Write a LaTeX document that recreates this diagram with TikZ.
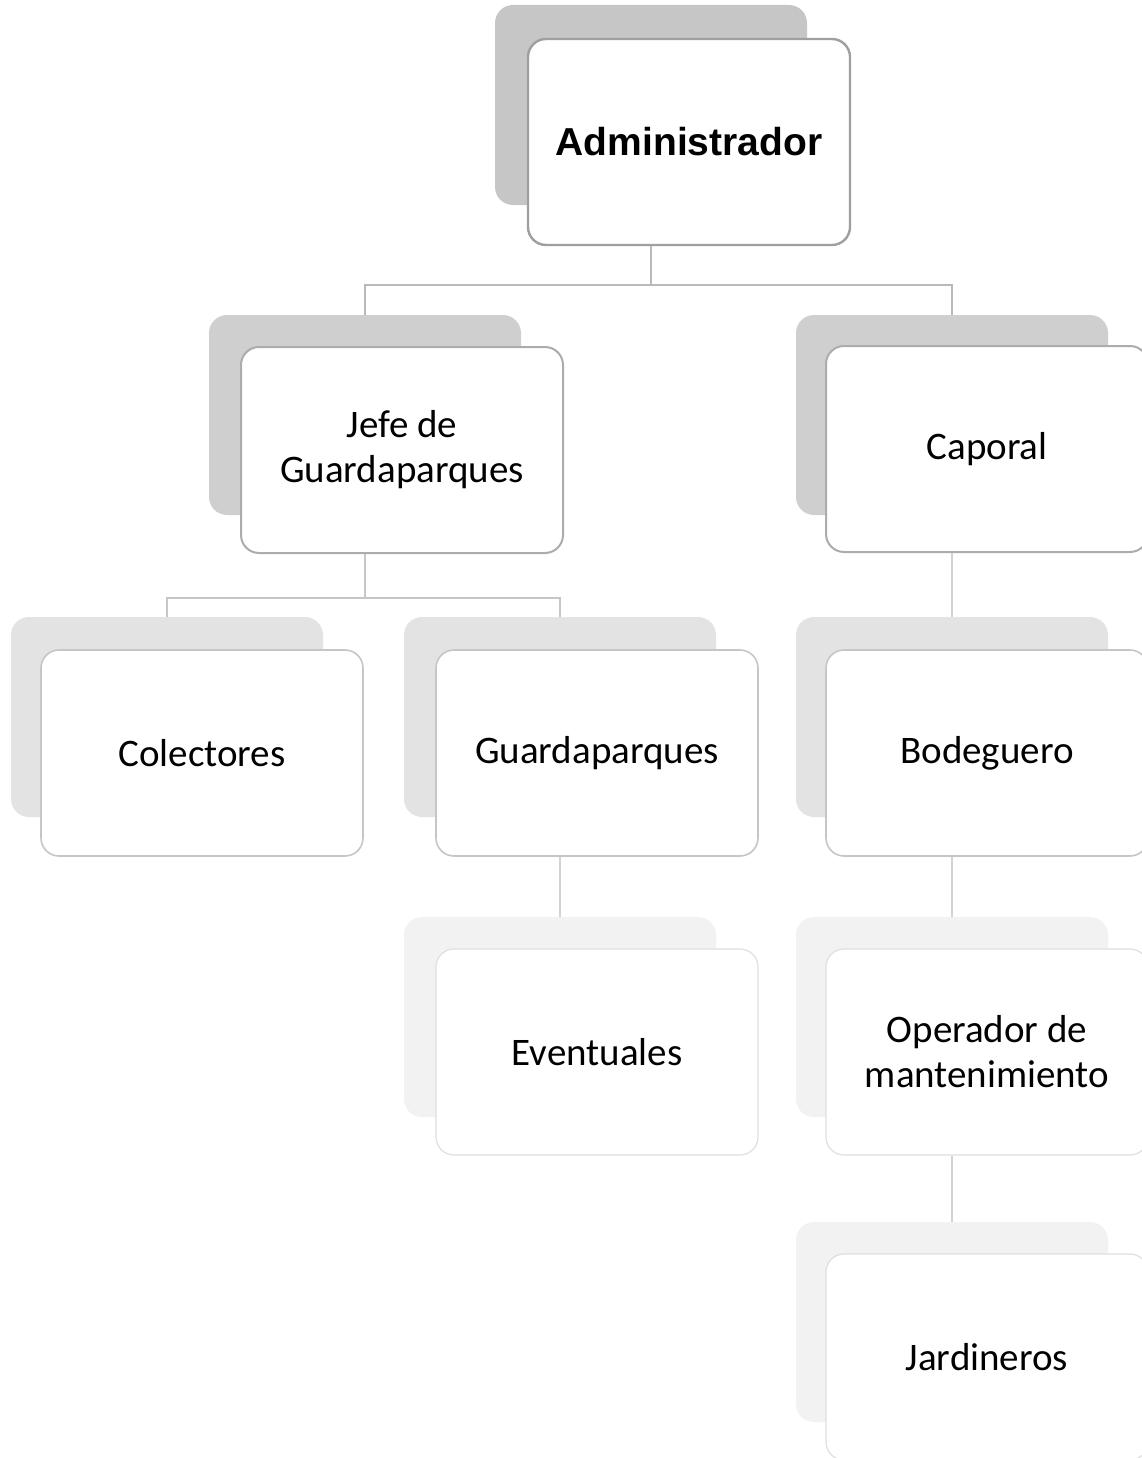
\documentclass[tikz,border=0pt]{standalone}
\usepackage{fontspec}
\setmainfont{Carlito}
\newfontfamily\headfont{Liberation Sans}
\usetikzlibrary{positioning}

\tikzset{
  frontbox/.style={draw=gray!60,fill=white,rounded corners=18pt,line width=1.6pt,
    minimum width=322pt,minimum height=206pt,inner sep=0pt,align=center,
    font=\fontsize{39}{45}\selectfont},
  backbox/.style={fill=gray!30,rounded corners=18pt,minimum width=312pt,
    minimum height=200pt,inner sep=0pt},
  conn/.style={draw=gray!55,line width=1.6pt}
}

\begin{document}
\begin{tikzpicture}
  [x=1pt,y=-1pt]
  \useasboundingbox (0,0) rectangle (1142,1458);
  % shadow boxes
  \node[backbox,fill=gray!45] (adminB) at (651,105) {};
  \node[backbox,fill=gray!38] (jefeB) at (365,415) {};
  \node[backbox,fill=gray!38] (capB) at (952,415) {};
  \node[backbox,fill=gray!22] (colB) at (167,717) {};
  \node[backbox,fill=gray!22] (gpB) at (560,717) {};
  \node[backbox,fill=gray!22] (bodB) at (952,717) {};
  \node[backbox,fill=gray!10] (evB) at (560,1017) {};
  \node[backbox,fill=gray!10] (opB) at (952,1017) {};
  \node[backbox,fill=gray!10] (jarB) at (952,1322) {};
  % boxes
  \node[frontbox,draw=gray!75,line width=2.4pt,font=\headfont\bfseries\fontsize{39}{45}\selectfont] (admin) at (689,142) {Administrador};
  \node[frontbox,draw=gray!65,line width=2pt] (jefe) at (402,450) {Jefe de\\Guardaparques};
  \node[frontbox,draw=gray!65,line width=2pt] (cap) at (987,449) {Caporal};
  \node[frontbox,draw=gray!45] (col) at (202,753) {Colectores};
  \node[frontbox,draw=gray!45] (gp) at (597,753) {Guardaparques};
  \node[frontbox,draw=gray!45] (bod) at (987,753) {Bodeguero};
  \node[frontbox,draw=gray!25,line width=1.2pt] (ev) at (597,1052) {Eventuales};
  \node[frontbox,draw=gray!25,line width=1.2pt] (op) at (987,1052) {Operador de\\mantenimiento};
  \node[frontbox,draw=gray!25,line width=1.2pt] (jar) at (987,1357) {Jardineros};
  % connectors
  \coordinate (busA) at (0,285);
  \coordinate (busB) at (0,598);
  \draw[conn] (adminB |- admin.south) -- (adminB |- busA) -| (jefeB.north);
  \draw[conn] (adminB |- busA) -| (capB.north);
  \draw[conn,draw=gray!45] (jefeB |- jefe.south) -- (jefeB |- busB) -| (colB.north);
  \draw[conn,draw=gray!45] (jefeB |- busB) -| (gpB.north);
  \foreach \from/\fromB/\to in {cap/capB/bodB, gp/gpB/evB, bod/bodB/opB, op/opB/jarB}
    \draw[conn,draw=gray!35,line width=1.2pt] (\fromB |- \from.south) -- (\to.north);
\end{tikzpicture}
\end{document}
